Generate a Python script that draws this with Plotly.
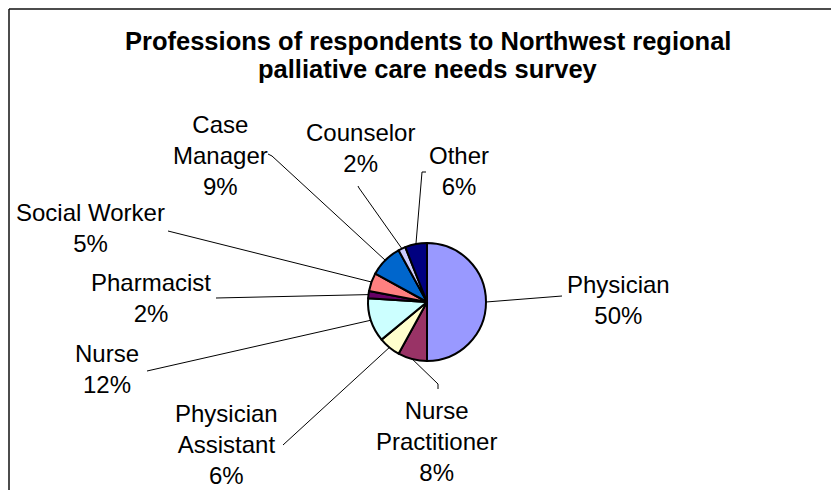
import math
import plotly.graph_objects as go

# ---- data ----
labels = ["Physician", "Nurse Practitioner", "Physician Assistant", "Nurse",
          "Pharmacist", "Social Worker", "Case Manager", "Counselor", "Other"]
values = [50, 8, 6, 12, 2, 5, 9, 2, 6]
label_text = ["Physician", "Nurse<br>Practitioner", "Physician<br>Assistant", "Nurse",
              "Pharmacist", "Social Worker", "Case<br>Manager", "Counselor", "Other"]
colors = ["#9999FF", "#993366", "#FFFFCC", "#CCFFFF", "#660066",
          "#FF8080", "#0066CC", "#CCCCFF", "#000080"]
title_lines = ["Professions of respondents to Northwest regional",
               "palliative care needs survey"]

# ---- layout (pixels) ----
W, H = 831, 490
CX, CY, R = 427, 302, 59
label_centres = [(618, 300), (437, 441), (227, 444), (107, 369), (151, 298),
                 (90, 228), (220, 155), (360, 148), (459, 171)]
leader_pts = [[(562, 296)], [(438, 384), (438, 389)], [(283, 445)], [(147, 371)],
              [(216, 298)], [(168, 231)], [(272, 156), (268, 154)],
              [(359, 188), (358, 186)], [(422, 172), (426, 172)]]

FONT = "Liberation Sans, Arial, sans-serif"


def px(x):
    return x / W


def py(y):
    return 1 - y / H


fig = go.Figure(go.Pie(
    labels=labels, values=values, sort=False, direction="clockwise", rotation=0,
    marker=dict(colors=colors, line=dict(color="#000000", width=2)),
    textinfo="none", hoverinfo="label+percent", showlegend=False,
    domain=dict(x=[px(CX - R), px(CX + R)], y=[py(CY + R), py(CY - R)]),
))

total = sum(values)
shapes = []
annotations = []
cum = 0
for i, v in enumerate(values):
    mid = (cum + v / 2) / total * 2 * math.pi
    cum += v
    sx = CX + R * math.sin(mid)
    sy = CY - R * math.cos(mid)
    pts = [(sx, sy)] + leader_pts[i]
    path = "M " + " L ".join(f"{px(x)},{py(y)}" for x, y in pts)
    shapes.append(dict(type="path", path=path, xref="paper", yref="paper",
                       line=dict(color="#000000", width=1)))
    lx, ly = label_centres[i]
    annotations.append(dict(
        x=px(lx), y=py(ly), xref="paper", yref="paper", showarrow=False,
        xanchor="center", yanchor="middle", align="center",
        text=f"{label_text[i]}<br>{round(v / total * 100)}%",
        font=dict(family=FONT, size=24, color="#000000")))

# title lines
for j, (t, yy) in enumerate(zip(title_lines, [41, 69])):
    annotations.append(dict(
        x=px(428), y=py(yy), xref="paper", yref="paper", showarrow=False,
        xanchor="center", yanchor="middle", text=f"<b>{t}</b>",
        font=dict(family=FONT, size=25.5, color="#000000")))

# chart frame (top and left edges visible)
shapes.append(dict(type="line", xref="paper", yref="paper",
                   x0=px(9), y0=py(9), x1=1.02, y1=py(9),
                   line=dict(color="#111111", width=1.5)))
shapes.append(dict(type="line", xref="paper", yref="paper",
                   x0=px(9), y0=py(9), x1=px(9), y1=-0.02,
                   line=dict(color="#111111", width=1.5)))

fig.update_layout(
    width=W, height=H, margin=dict(l=0, r=0, t=0, b=0),
    paper_bgcolor="#FFFFFF", plot_bgcolor="#FFFFFF",
    shapes=shapes, annotations=annotations,
    font=dict(family=FONT),
)

fig.write_html("out.html")
